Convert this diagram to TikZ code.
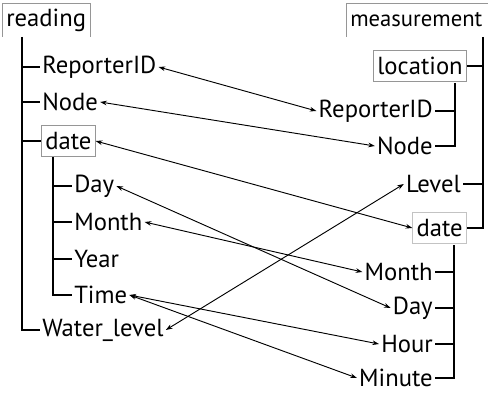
\documentclass[tikz,border=0pt]{standalone}
\usepackage{fontspec}
\setmainfont{PT Sans}
\usetikzlibrary{arrows.meta, positioning, calc}
\definecolor{boxgray}{RGB}{150, 150, 150}
\definecolor{boxlight}{RGB}{195, 195, 195}
\tikzstyle{field} = [inner sep=1.5pt, font=\fontsize{18.5}{21}\selectfont]
\tikzstyle{group} = [field, draw=boxgray, inner sep=3pt, minimum height=23pt]
\tikzstyle{tree} = [line width=1.1pt, black]
\tikzstyle{link} = [line width=0.7pt, {Stealth[length=5pt,width=3.5pt]}-{Stealth[length=5pt,width=3.5pt]}]

\begin{document}
\begin{tikzpicture}[x=0.75pt, y=-0.75pt]
\useasboundingbox (0,0) rectangle (488,392);

% Left tree: reading
\node[field, anchor=north west, inner sep=3pt, minimum height=25pt] (reading) at (2,3) {reading};
\draw[boxgray] (reading.south west) |- (reading.north east) -- (reading.south east);
\node[field, anchor=west] (rReporter) at (40,67) {ReporterID};
\node[field, anchor=west] (rNode) at (40,102) {Node};
\node[group, anchor=west] (rDate) at (41,141) {date};
\node[field, anchor=west] (rDay) at (72,186) {Day};
\node[field, anchor=west] (rMonth) at (72,222) {Month};
\node[field, anchor=west] (rYear) at (72,259) {Year};
\node[field, anchor=west] (rTime) at (72,295) {Time};
\node[field, anchor=west] (rWater) at (40,330) {Water\_level};

\coordinate (rTrunk) at (22,37);
\coordinate (dTrunk) at (53,157);
\draw[tree] (rTrunk) |- (rWater.west);
\foreach \n in {rReporter, rNode, rDate}
    \draw[tree] (rTrunk |- \n.west) -- (\n.west);
\draw[tree] (dTrunk) |- (rTime.west);
\foreach \n in {rDay, rMonth, rYear}
    \draw[tree] (dTrunk |- \n.west) -- (\n.west);

% Right tree: measurement
\node[field, font=\fontsize{17}{19}\selectfont, anchor=north west, inner sep=3pt, minimum height=25pt] (measurement) at (346,3) {measurement};
\draw[boxgray] (measurement.south west) |- ($(measurement.north east)+(8,0)$);
\node[group, anchor=east] (mLocation) at (467,66) {location};
\node[field, anchor=east] (mReporter) at (435,111) {ReporterID};
\node[field, anchor=east] (mNode) at (435,146) {Node};
\node[field, anchor=east] (mLevel) at (463,184) {Level};
\node[group, draw=boxlight, anchor=east] (mDate) at (467,228) {date};
\node[field, anchor=east] (mMonth) at (435,272) {Month};
\node[field, anchor=east] (mDay) at (435,308) {Day};
\node[field, anchor=east] (mHour) at (435,344) {Hour};
\node[field, anchor=east] (mMinute) at (435,378) {Minute};

\coordinate (mTrunk) at (483,37);
\coordinate (lTrunk) at (455,83);
\coordinate (tTrunk) at (454,245);
\draw[tree] (mTrunk) |- (mDate.east);
\foreach \n in {mLocation, mLevel}
    \draw[tree] (mTrunk |- \n.east) -- (\n.east);
\draw[tree] (lTrunk) |- (mNode.east);
\draw[tree] (lTrunk |- mReporter.east) -- (mReporter.east);
\draw[tree] (tTrunk) |- (mMinute.east);
\foreach \n in {mMonth, mDay, mHour}
    \draw[tree] (tTrunk |- \n.east) -- (\n.east);

% Mappings
\draw[link] (rReporter.east) -- (mReporter.west);
\draw[link] (rNode.east) -- (mNode.west);
\draw[link] (rDate.east) -- (mDate.west);
\draw[link] (rDay.east) -- (mDay.west);
\draw[link] (rMonth.east) -- (mMonth.west);
\draw[link] (rTime.east) -- (mHour.west);
\draw[link] (rTime.east) -- (mMinute.west);
\draw[link] (rWater.east) -- (mLevel.west);
\end{tikzpicture}
\end{document}
